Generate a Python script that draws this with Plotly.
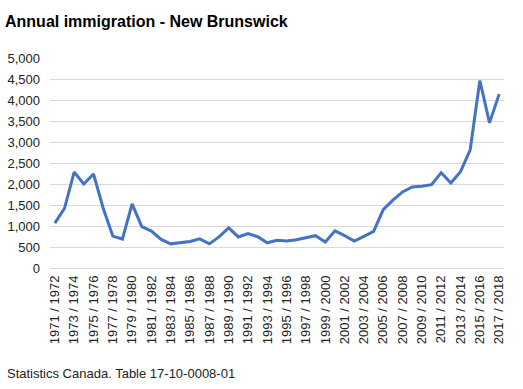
import plotly.graph_objects as go

start_years = list(range(1971, 2018))
categories = [f"{y} / {y + 1}" for y in start_years]
immigrants = [
    1070, 1420, 2285, 2000, 2240, 1430, 760, 690, 1525, 985,
    880, 680, 575, 600, 630, 695, 575, 740, 955, 740,
    820, 745, 600, 660, 645, 675, 720, 770, 620, 885,
    770, 640, 755, 870, 1390, 1615, 1810, 1930, 1945, 1985,
    2270, 2025, 2295, 2815, 4465, 3455, 4140,
]
tick_labels = categories[::2]
y_ticks = list(range(0, 5001, 500))

title_text = "Annual immigration - New Brunswick"
source_text = "Statistics Canada. Table 17-10-0008-01"

W, H = 523, 389
L, R, T, B = 50, 19, 58, 121

fig = go.Figure()
fig.add_trace(go.Scatter(
    x=categories, y=immigrants, mode="lines",
    line=dict(color="#4472C4", width=3),
    hoverinfo="x+y", showlegend=False,
))

font = "Liberation Sans, Arial, sans-serif"
fig.update_layout(
    width=W, height=H,
    margin=dict(l=L, r=R, t=T, b=B, pad=0),
    paper_bgcolor="white", plot_bgcolor="white",
    font=dict(family=font, size=13, color="#222222"),
    title=dict(
        text="<b>" + title_text + "</b>",
        font=dict(family=font, size=16, color="#000000"),
        xref="container", yref="container",
        x=5 / W, xanchor="left",
        y=1 - 21 / H, yanchor="middle",
    ),
    xaxis=dict(
        type="category",
        categoryorder="array", categoryarray=categories,
        range=[-0.5, len(categories) - 0.5],
        tickmode="array", tickvals=tick_labels, ticktext=tick_labels,
        tickangle=-90,
        showgrid=False, zeroline=False,
        showline=False, ticks="",
        ticklabelstandoff=4,
        automargin=False,
        tickfont=dict(family=font, size=13, color="#222222"),
    ),
    yaxis=dict(
        range=[0, 5000],
        tickmode="array", tickvals=y_ticks,
        tickformat=",",
        showgrid=True, gridcolor="#d9d9d9", gridwidth=1,
        zeroline=True, zerolinecolor="#d9d9d9", zerolinewidth=1,
        showline=False, ticks="",
        ticklabelstandoff=9,
        automargin=False,
        tickfont=dict(family=font, size=13, color="#222222"),
    ),
    annotations=[dict(
        text=source_text, showarrow=False,
        xref="paper", yref="paper",
        x=(5 - L) / (W - L - R), xanchor="left",
        y=(H - B - 373) / (H - T - B), yanchor="middle",
        font=dict(family=font, size=13, color="#222222"),
    )],
)

fig.write_html(
    "out.html",
    config={"displayModeBar": False},
    post_script="document.body.style.margin='0px';document.body.style.overflow='hidden';",
)
